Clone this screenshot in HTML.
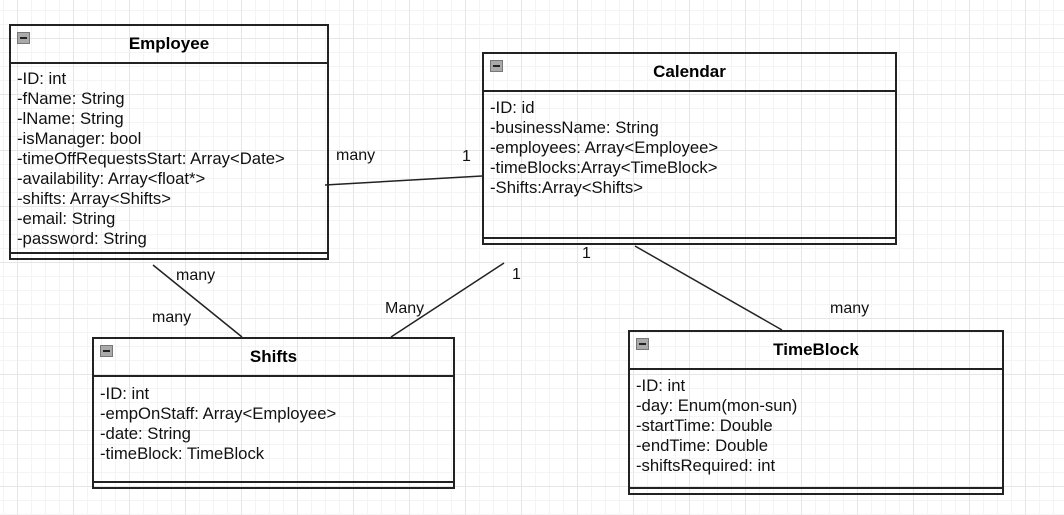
<!DOCTYPE html>
<html><head><style>
body{margin:0;width:1064px;height:515px;overflow:hidden;background:#fff;font-family:"Liberation Sans",Arial,sans-serif;
background-image:linear-gradient(#e6e6e6 1px,transparent 1px),linear-gradient(90deg,#e6e6e6 1px,transparent 1px),linear-gradient(#f4f4f4 1px,transparent 1px),linear-gradient(90deg,#f4f4f4 1px,transparent 1px);
background-size:56px 56px,56px 56px,14px 14px,14px 14px;background-position:17px 38px,17px 38px,3px 10px,3px 10px;position:relative}
.box{position:absolute;border:2px solid #222;box-sizing:border-box}
.hd{position:absolute;left:0;right:0;top:0;border-bottom:2px solid #222;text-align:center;font-weight:bold;font-size:17px}
.ic{position:absolute;left:6px;top:6px;width:13px;height:12px;background:#aaa;border:1px solid #777;box-sizing:border-box}
.ic:after{content:"";position:absolute;left:2px;right:2px;top:4px;height:2px;background:#222}
.bd{position:absolute;left:6px;font-size:16.7px;line-height:20px;color:#111;white-space:pre}
.ft{position:absolute;left:0;right:0;height:4px;border-top:2px solid #222;bottom:0}
.lb{position:absolute;font-size:16px;color:#111}
svg{position:absolute;left:0;top:0}
</style></head><body>
<svg width="1064" height="515"><g stroke="#222" stroke-width="1.5">
<line x1="325" y1="185" x2="482" y2="176"/>
<line x1="153" y1="265" x2="242" y2="337"/>
<line x1="504" y1="263" x2="391" y2="337"/>
<line x1="635" y1="246" x2="782" y2="330"/>
</g></svg>

<div class="box" style="left:9px;top:24px;width:320px;height:236px">
<div class="hd" style="height:36px;line-height:36px">Employee</div><div class="ic"></div>
<div class="bd" style="top:43px">-ID: int
-fName: String
-lName: String
-isManager: bool
-timeOffRequestsStart: Array&lt;Date&gt;
-availability: Array&lt;float*&gt;
-shifts: Array&lt;Shifts&gt;
-email: String
-password: String</div>
<div class="ft"></div></div>

<div class="box" style="left:482px;top:52px;width:415px;height:193px">
<div class="hd" style="height:36px;line-height:36px">Calendar</div><div class="ic"></div>
<div class="bd" style="top:44px">-ID: id
-businessName: String
-employees: Array&lt;Employee&gt;
-timeBlocks:Array&lt;TimeBlock&gt;
-Shifts:Array&lt;Shifts&gt;</div>
<div class="ft"></div></div>

<div class="box" style="left:92px;top:337px;width:363px;height:152px">
<div class="hd" style="height:36px;line-height:36px">Shifts</div><div class="ic"></div>
<div class="bd" style="top:45px">-ID: int
-empOnStaff: Array&lt;Employee&gt;
-date: String
-timeBlock: TimeBlock</div>
<div class="ft"></div></div>

<div class="box" style="left:628px;top:330px;width:376px;height:165px">
<div class="hd" style="height:36px;line-height:36px">TimeBlock</div><div class="ic"></div>
<div class="bd" style="top:44px">-ID: int
-day: Enum(mon-sun)
-startTime: Double
-endTime: Double
-shiftsRequired: int</div>
<div class="ft"></div></div>

<div class="lb" style="left:336px;top:147px">many</div>
<div class="lb" style="left:462px;top:148px">1</div>
<div class="lb" style="left:176px;top:267px">many</div>
<div class="lb" style="left:152px;top:309px">many</div>
<div class="lb" style="left:385px;top:300px">Many</div>
<div class="lb" style="left:512px;top:266px">1</div>
<div class="lb" style="left:582px;top:245px">1</div>
<div class="lb" style="left:830px;top:300px">many</div>
</body></html>
